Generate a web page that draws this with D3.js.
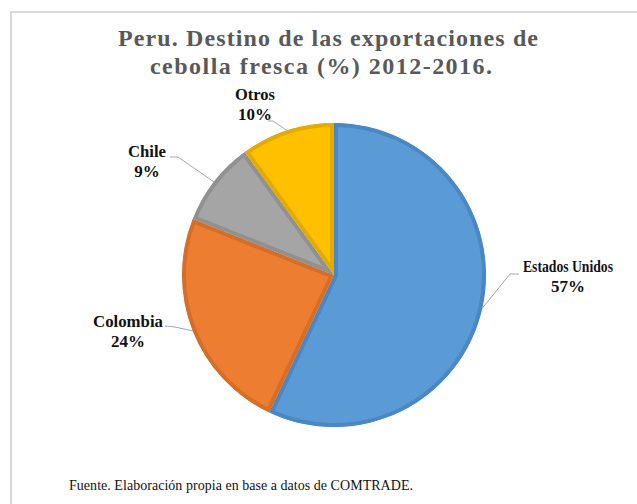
<!DOCTYPE html>
<html>
<head>
<meta charset="utf-8">
<script src="https://cdn.jsdelivr.net/npm/d3@7"></script>
<style>
  html, body { margin: 0; padding: 0; background: #fff; }
  svg { display: block; }
  .serif { font-family: 'Liberation Serif', 'Times New Roman', Times, serif; }
</style>
</head>
<body>
<div id="chart"></div>
<script>
  const CATEGORIES = ['Estados Unidos', 'Colombia', 'Chile', 'Otros'];
  const VALUES = [57, 24, 9, 10];
  const FILLS = ['#5b9bd5', '#ed7d31', '#a5a5a5', '#ffc000'];
  const EDGES = ['#4a87c4', '#d66e28', '#919191', '#e3ab00'];

  const W = 637, H = 504;
  const cx = 334, cy = 275, R = 152;

  // label centre, first baseline, name width, and leader line elbow/end
  const LABELS = [
    { x: 568, y: 272, w: 90, elbow: [510, 274], end: [519, 274] },
    { x: 128, y: 327, w: 70, elbow: [175, 327], end: [165, 326] },
    { x: 147, y: 157, w: 38, elbow: [178, 157], end: [170, 157] },
    { x: 255, y: 100, w: 40, elbow: [273, 121], end: [268, 121] }
  ];

  const svg = d3.select('#chart').append('svg')
    .attr('width', W).attr('height', H);

  // outer frame
  svg.append('rect')
    .attr('x', 11).attr('y', 12)
    .attr('width', W + 20).attr('height', H + 20)
    .attr('fill', 'none')
    .attr('stroke', '#d9d9d9')
    .attr('stroke-width', 2);

  // title
  const title = svg.append('text')
    .attr('class', 'serif')
    .attr('text-anchor', 'middle')
    .style('font-weight', 'bold')
    .style('font-size', '24px')
    .attr('fill', '#595959');
  title.append('tspan').attr('x', 328).attr('y', 46)
    .attr('textLength', 420).attr('lengthAdjust', 'spacing')
    .text('Peru. Destino de las exportaciones de');
  title.append('tspan').attr('x', 321).attr('y', 74)
    .attr('textLength', 342).attr('lengthAdjust', 'spacing')
    .text('cebolla fresca (%) 2012-2016.');

  const data = CATEGORIES.map((c, i) => ({ name: c, value: VALUES[i], i }));

  const pie = d3.pie().value(d => d.value).sort(null);
  const arc = d3.arc().innerRadius(0).outerRadius(R);
  const arcs = pie(data);

  const g = svg.append('g').attr('transform', `translate(${cx},${cy})`);
  const defs = svg.append('defs');

  arcs.forEach((a, i) => {
    defs.append('clipPath').attr('id', 'clip' + i)
      .append('path').attr('d', arc(a));
  });

  // slices with inner borders
  g.selectAll('path.slice')
    .data(arcs)
    .enter()
    .append('path')
    .attr('class', 'slice')
    .attr('d', arc)
    .attr('fill', d => FILLS[d.data.i])
    .attr('stroke', d => EDGES[d.data.i])
    .attr('stroke-width', 8)
    .attr('stroke-linejoin', 'round')
    .attr('clip-path', d => `url(#clip${d.data.i})`);

  // leader lines
  arcs.forEach((a, i) => {
    const mid = (a.startAngle + a.endAngle) / 2;
    const px = cx + R * Math.sin(mid);
    const py = cy - R * Math.cos(mid);
    const L = LABELS[i];
    svg.append('polyline')
      .attr('points', [[px, py], L.elbow, L.end].map(p => p.join(',')).join(' '))
      .attr('fill', 'none')
      .attr('stroke', '#a6a6a6')
      .attr('stroke-width', 1);
  });

  // labels
  arcs.forEach((a, i) => {
    const L = LABELS[i];
    const t = svg.append('text')
      .attr('class', 'serif')
      .attr('text-anchor', 'middle')
      .style('font-weight', 'bold')
      .style('font-size', '17px')
      .attr('fill', '#111');
    t.append('tspan').attr('x', L.x).attr('y', L.y)
      .attr('textLength', L.w).attr('lengthAdjust', 'spacingAndGlyphs')
      .text(a.data.name);
    t.append('tspan').attr('x', L.x).attr('y', L.y + 20).text(a.data.value + '%');
  });

  // source note
  svg.append('text')
    .attr('class', 'serif')
    .attr('x', 69).attr('y', 490)
    .attr('textLength', 344).attr('lengthAdjust', 'spacing')
    .style('font-size', '14px')
    .attr('fill', '#111')
    .text('Fuente. Elaboración propia en base a datos de COMTRADE.');
</script>
</body>
</html>
